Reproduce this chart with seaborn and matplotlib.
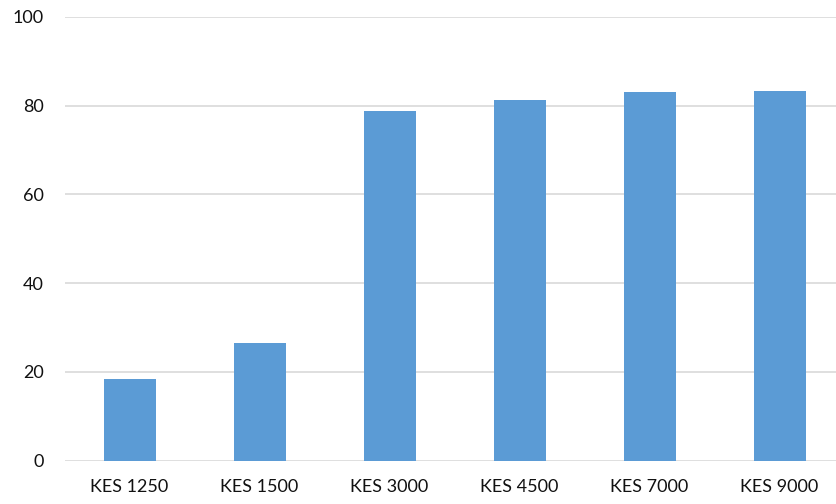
import matplotlib
matplotlib.use("Agg")
import matplotlib.pyplot as plt
import seaborn as sns
import pandas as pd

categories = ["KES 1250", "KES 1500", "KES 3000", "KES 4500", "KES 7000", "KES 9000"]
values = [18.4, 26.5, 78.9, 81.3, 83.1, 83.3]
yticks = [0, 20, 40, 60, 80, 100]

sns.set_style("white")
plt.rcParams['font.family'] = ['Lato', 'DejaVu Sans']

df = pd.DataFrame({"cat": categories, "val": values})

W, H = 836, 504
fig = plt.figure(figsize=(W / 100, H / 100), dpi=100)
ax = fig.add_axes([64.5 / W, 43.5 / H, 780 / W, 443.5 / H])

sns.barplot(data=df, x="cat", y="val", color="#5B9BD5", width=0.4,
            saturation=1, ax=ax, edgecolor="#5B9BD5", linewidth=0, zorder=3)

ax.set_xlim(-0.5, 5.5)
ax.set_ylim(0, 100)
ax.set_yticks(yticks)
ax.set_yticklabels([str(t) for t in yticks])
ax.set_xlabel("")
ax.set_ylabel("")
ax.grid(axis="y", color="#D9D9D9", linewidth=1.2, zorder=0)
ax.grid(axis="x", visible=False)
for s in ax.spines.values():
    s.set_visible(False)
ax.tick_params(axis="both", length=0, labelsize=13, colors="#111111")
ax.tick_params(axis="y", pad=15)
ax.tick_params(axis="x", pad=13)

fig.savefig("out.png", dpi=100)
